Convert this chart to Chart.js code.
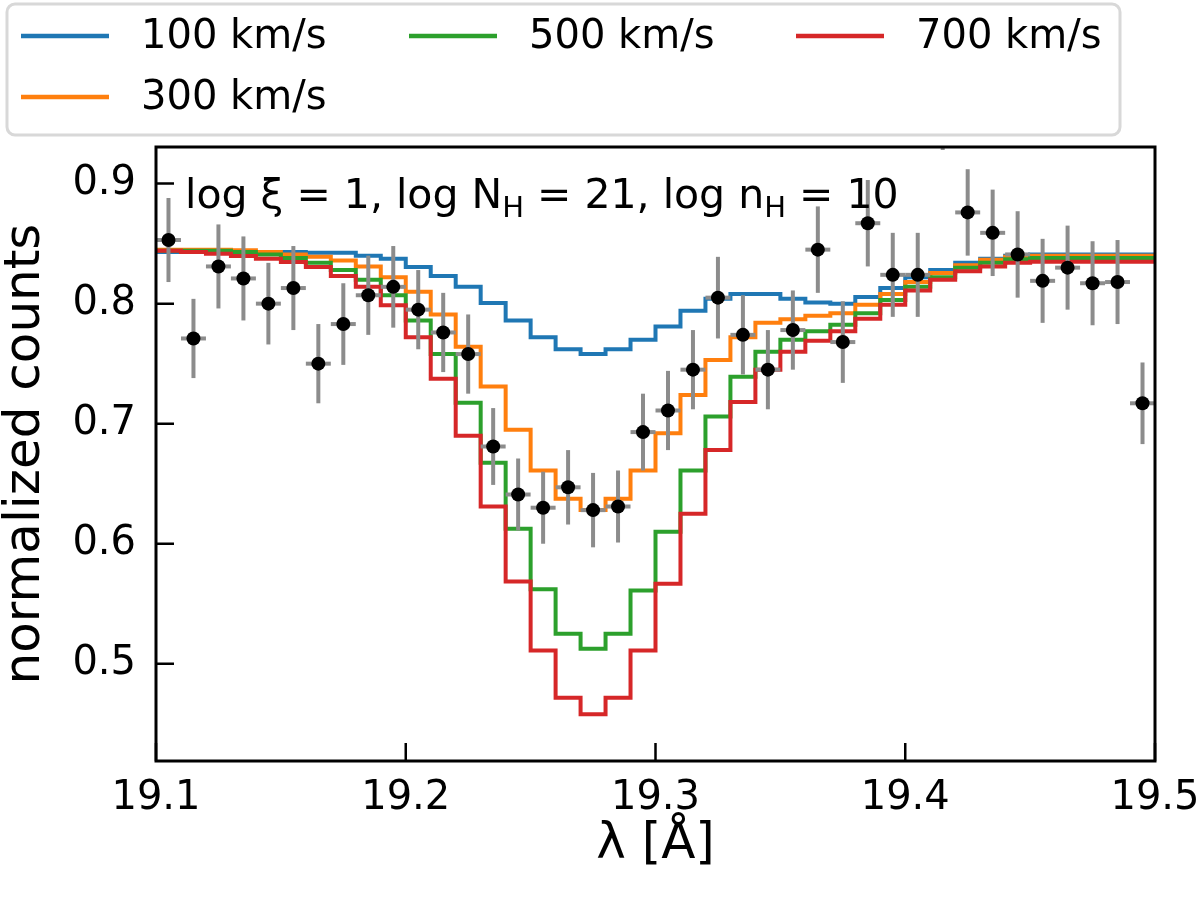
<!DOCTYPE html>
<html>
<head>
<meta charset="utf-8">
<script src="https://cdn.jsdelivr.net/npm/chart.js@4.4.1/dist/chart.umd.min.js"></script>
<style>
  html, body { margin: 0; padding: 0; background: #fff; }
  #wrap { width: 1200px; height: 897px; }
</style>
</head>
<body>
<div id="wrap"><canvas id="specChart" width="1200" height="897"></canvas></div>
<script>
const FONT = '"DejaVu Sans", "Liberation Sans", sans-serif';

// observed spectrum: bin centres, normalized counts, 1-sigma errors
const wavelength = [
    19.105, 19.115, 19.125, 19.135, 19.145, 19.155, 19.165, 19.175, 19.185, 19.195,
    19.205, 19.215, 19.225, 19.235, 19.245, 19.255, 19.265, 19.275, 19.285, 19.295,
    19.305, 19.315, 19.325, 19.335, 19.345, 19.355, 19.365, 19.375, 19.385, 19.395,
    19.405, 19.415, 19.425, 19.435, 19.445, 19.455, 19.465, 19.475, 19.485, 19.495
];
const counts = [
    0.853, 0.771, 0.831, 0.821, 0.800, 0.813, 0.750, 0.783, 0.807, 0.814,
    0.795, 0.776, 0.758, 0.681, 0.641, 0.630, 0.647, 0.628, 0.631, 0.693,
    0.711, 0.745, 0.805, 0.774, 0.745, 0.778, 0.845, 0.768, 0.867, 0.824,
    0.824, 0.965, 0.876, 0.859, 0.841, 0.819, 0.830, 0.817, 0.818, 0.717
];
const countErr = [
    0.035, 0.033, 0.035, 0.035, 0.034, 0.035, 0.033, 0.034, 0.033, 0.034,
    0.033, 0.033, 0.033, 0.032, 0.030, 0.030, 0.031, 0.031, 0.030, 0.032,
    0.033, 0.033, 0.034, 0.033, 0.033, 0.033, 0.036, 0.034, 0.036, 0.035,
    0.035, 0.037, 0.036, 0.036, 0.036, 0.035, 0.035, 0.035, 0.035, 0.034
];
const binHalfWidth = 0.005;

// model bins (edges) and the model value in each bin
const binEdges = [
    19.10, 19.11, 19.12, 19.13, 19.14, 19.15, 19.16, 19.17, 19.18, 19.19,
    19.20, 19.21, 19.22, 19.23, 19.24, 19.25, 19.26, 19.27, 19.28, 19.29,
    19.30, 19.31, 19.32, 19.33, 19.34, 19.35, 19.36, 19.37, 19.38, 19.39,
    19.40, 19.41, 19.42, 19.43, 19.44, 19.45, 19.46, 19.47, 19.48, 19.49, 19.50
];
const model100 = [
    0.843, 0.843, 0.843, 0.843, 0.843, 0.843, 0.8425, 0.8425, 0.840, 0.8375,
    0.8305, 0.823, 0.814, 0.8005, 0.786, 0.772, 0.762, 0.758, 0.762, 0.770,
    0.781, 0.794, 0.804, 0.808, 0.808, 0.804, 0.801, 0.800, 0.8055, 0.813,
    0.822, 0.828, 0.834, 0.8375, 0.840, 0.841, 0.841, 0.841, 0.841, 0.841
];
const model300 = [
    0.845, 0.845, 0.845, 0.8445, 0.843, 0.841, 0.839, 0.836, 0.831, 0.822,
    0.810, 0.791, 0.764, 0.731, 0.695, 0.661, 0.6375, 0.628, 0.6375, 0.661,
    0.692, 0.724, 0.753, 0.772, 0.784, 0.787, 0.790, 0.792, 0.799, 0.808,
    0.818, 0.8255, 0.832, 0.8365, 0.839, 0.840, 0.840, 0.840, 0.840, 0.840
];
const model500 = [
    0.844, 0.844, 0.844, 0.843, 0.841, 0.838, 0.834, 0.828, 0.820, 0.807,
    0.786, 0.758, 0.7175, 0.6675, 0.6125, 0.562, 0.525, 0.5125, 0.525, 0.561,
    0.610, 0.661, 0.706, 0.739, 0.760, 0.770, 0.777, 0.7825, 0.792, 0.803,
    0.814, 0.822, 0.830, 0.834, 0.837, 0.838, 0.838, 0.838, 0.838, 0.838
];
const model700 = [
    0.844, 0.843, 0.8416, 0.8397, 0.8375, 0.8347, 0.8305, 0.823, 0.814, 0.7986,
    0.772, 0.7375, 0.690, 0.631, 0.5686, 0.511, 0.4717, 0.458, 0.4717, 0.511,
    0.5667, 0.625, 0.678, 0.718, 0.745, 0.760, 0.769, 0.777, 0.7875, 0.799,
    0.811, 0.820, 0.827, 0.831, 0.834, 0.835, 0.835, 0.835, 0.835, 0.835
];

const seriesLabels = ["100 km/s", "300 km/s", "500 km/s", "700 km/s"];
const seriesColors = ["#1f77b4", "#ff7f0e", "#2ca02c", "#d62728"];
const models = [model100, model300, model500, model700];

const xTicks = [19.1, 19.2, 19.3, 19.4, 19.5];
const yTicks = [0.5, 0.6, 0.7, 0.8, 0.9];

// legend layout (matplotlib ncol=3, filled column by column)
const legendSlots = [
    { col: 0, row: 0 }, { col: 0, row: 1 }, { col: 1, row: 0 }, { col: 2, row: 0 }
];

function stepData(values) {
    // point at every bin edge; with stepped "before" the segment from
    // edge i to edge i+1 is drawn at point i's value, i.e. values[i]
    return binEdges.map((x, i) => ({ x, y: values[Math.min(i, values.length - 1)] }));
}

const errorBars = {
    id: "errorBars",
    beforeDatasetDraw(chart, args) {
        if (args.index !== 4) return;
        const { ctx, chartArea: a, scales: { x, y } } = chart;
        ctx.save();
        ctx.beginPath();
        ctx.rect(a.left, a.top, a.right - a.left, a.bottom - a.top);
        ctx.clip();
        ctx.strokeStyle = "#8c8c8c";
        wavelength.forEach((w, i) => {
            const px = x.getPixelForValue(w);
            const py = y.getPixelForValue(counts[i]);
            ctx.lineWidth = 4;
            ctx.beginPath();
            ctx.moveTo(px, y.getPixelForValue(counts[i] - countErr[i]));
            ctx.lineTo(px, y.getPixelForValue(counts[i] + countErr[i]));
            ctx.stroke();
            ctx.beginPath();
            ctx.moveTo(x.getPixelForValue(w - binHalfWidth), py);
            ctx.lineTo(x.getPixelForValue(w + binHalfWidth), py);
            ctx.stroke();
        });
        ctx.restore();
    }
};

const frameAndText = {
    id: "frameAndText",
    afterDraw(chart) {
        const { ctx, chartArea: a, scales: { x, y } } = chart;
        ctx.save();

        // spines + inward ticks
        ctx.strokeStyle = "#000";
        ctx.lineWidth = 3;
        ctx.strokeRect(a.left, a.top, a.right - a.left, a.bottom - a.top);
        ctx.lineWidth = 2.5;
        ctx.beginPath();
        yTicks.forEach(v => {
            const py = y.getPixelForValue(v);
            ctx.moveTo(a.left, py);
            ctx.lineTo(a.left + 18, py);
        });
        xTicks.forEach(v => {
            const px = x.getPixelForValue(v);
            ctx.moveTo(px, a.bottom);
            ctx.lineTo(px, a.bottom - 18);
        });
        ctx.stroke();

        // parameter annotation with subscripts
        ctx.fillStyle = "#000";
        ctx.textBaseline = "alphabetic";
        ctx.textAlign = "left";
        const runs = [
            { t: "log \u03be = 1, log N" }, { t: "H", sub: true },
            { t: " = 21, log n" }, { t: "H", sub: true },
            { t: " = 10" }
        ];
        let tx = a.left + 29;
        const ty = a.top + 61;
        runs.forEach(r => {
            ctx.font = (r.sub ? "29px " : "41px ") + FONT;
            ctx.fillText(r.t, tx, ty + (r.sub ? 9 : 0));
            tx += ctx.measureText(r.t).width;
        });

        // legend box
        ctx.fillStyle = "rgba(255,255,255,0.8)";
        ctx.strokeStyle = "#d8d8d8";
        ctx.lineWidth = 3;
        ctx.beginPath();
        ctx.roundRect(7, 4, 1113, 131, 8);
        ctx.fill();
        ctx.stroke();

        ctx.font = "40px " + FONT;
        ctx.textBaseline = "middle";
        const colX = [21, 409, 796];
        const rowY = [36, 97];
        legendSlots.forEach((s, i) => {
            const lx = colX[s.col];
            const ly = rowY[s.row];
            ctx.strokeStyle = seriesColors[i];
            ctx.lineWidth = 4.5;
            ctx.beginPath();
            ctx.moveTo(lx, ly);
            ctx.lineTo(lx + 88, ly);
            ctx.stroke();
            ctx.fillStyle = "#000";
            ctx.fillText(seriesLabels[i], lx + 120, ly + 2);
        });

        ctx.restore();
    }
};

const modelSets = models.map((m, i) => ({
    label: seriesLabels[i],
    data: stepData(m),
    showLine: true,
    stepped: "before",
    borderColor: seriesColors[i],
    backgroundColor: seriesColors[i],
    borderWidth: 4,
    pointRadius: 0,
    fill: false,
    order: 4 - i
}));

const pointSet = {
    label: "data",
    data: wavelength.map((w, i) => ({ x: w, y: counts[i] })),
    showLine: false,
    pointRadius: 7,
    pointBackgroundColor: "#000",
    pointBorderWidth: 0,
    order: 0
};

new Chart(document.getElementById("specChart").getContext("2d"), {
    type: "scatter",
    data: { datasets: [...modelSets, pointSet] },
    options: {
        responsive: false,
        animation: false,
        devicePixelRatio: 1,
        layout: { padding: { top: 147, right: 45, left: 0, bottom: 0 } },
        plugins: { legend: { display: false }, tooltip: { enabled: false } },
        scales: {
            x: {
                type: "linear",
                min: 19.1,
                max: 19.5,
                grid: { display: false, drawTicks: false },
                border: { display: false },
                afterBuildTicks: s => { s.ticks = xTicks.map(v => ({ value: v })); },
                afterFit: s => {
                    s.height = 136;
                    s.paddingLeft = 0;
                    s.paddingRight = 0;
                },
                ticks: {
                    color: "#000",
                    font: { family: FONT, size: 40 },
                    padding: 14,
                    maxRotation: 0,
                    autoSkip: false,
                    callback: v => v.toFixed(1)
                },
                title: {
                    display: true,
                    text: "\u03bb [\u00c5]",
                    color: "#000",
                    font: { family: FONT, size: 50, lineHeight: 1 },
                    padding: { top: 0, bottom: 27 }
                }
            },
            y: {
                type: "linear",
                min: 0.419,
                max: 0.9305,
                grid: { display: false, drawTicks: false },
                border: { display: false },
                afterBuildTicks: s => { s.ticks = yTicks.map(v => ({ value: v })); },
                afterFit: s => {
                    s.width = 156;
                    s.paddingTop = 0;
                    s.paddingBottom = 0;
                },
                ticks: {
                    color: "#000",
                    font: { family: FONT, size: 40 },
                    padding: 20,
                    callback: v => v.toFixed(1)
                },
                title: {
                    display: true,
                    text: "normalized counts",
                    color: "#000",
                    font: { family: FONT, size: 50, lineHeight: 1 },
                    padding: { top: 1, bottom: 0 }
                }
            }
        }
    },
    plugins: [errorBars, frameAndText]
});
</script>
</body>
</html>
